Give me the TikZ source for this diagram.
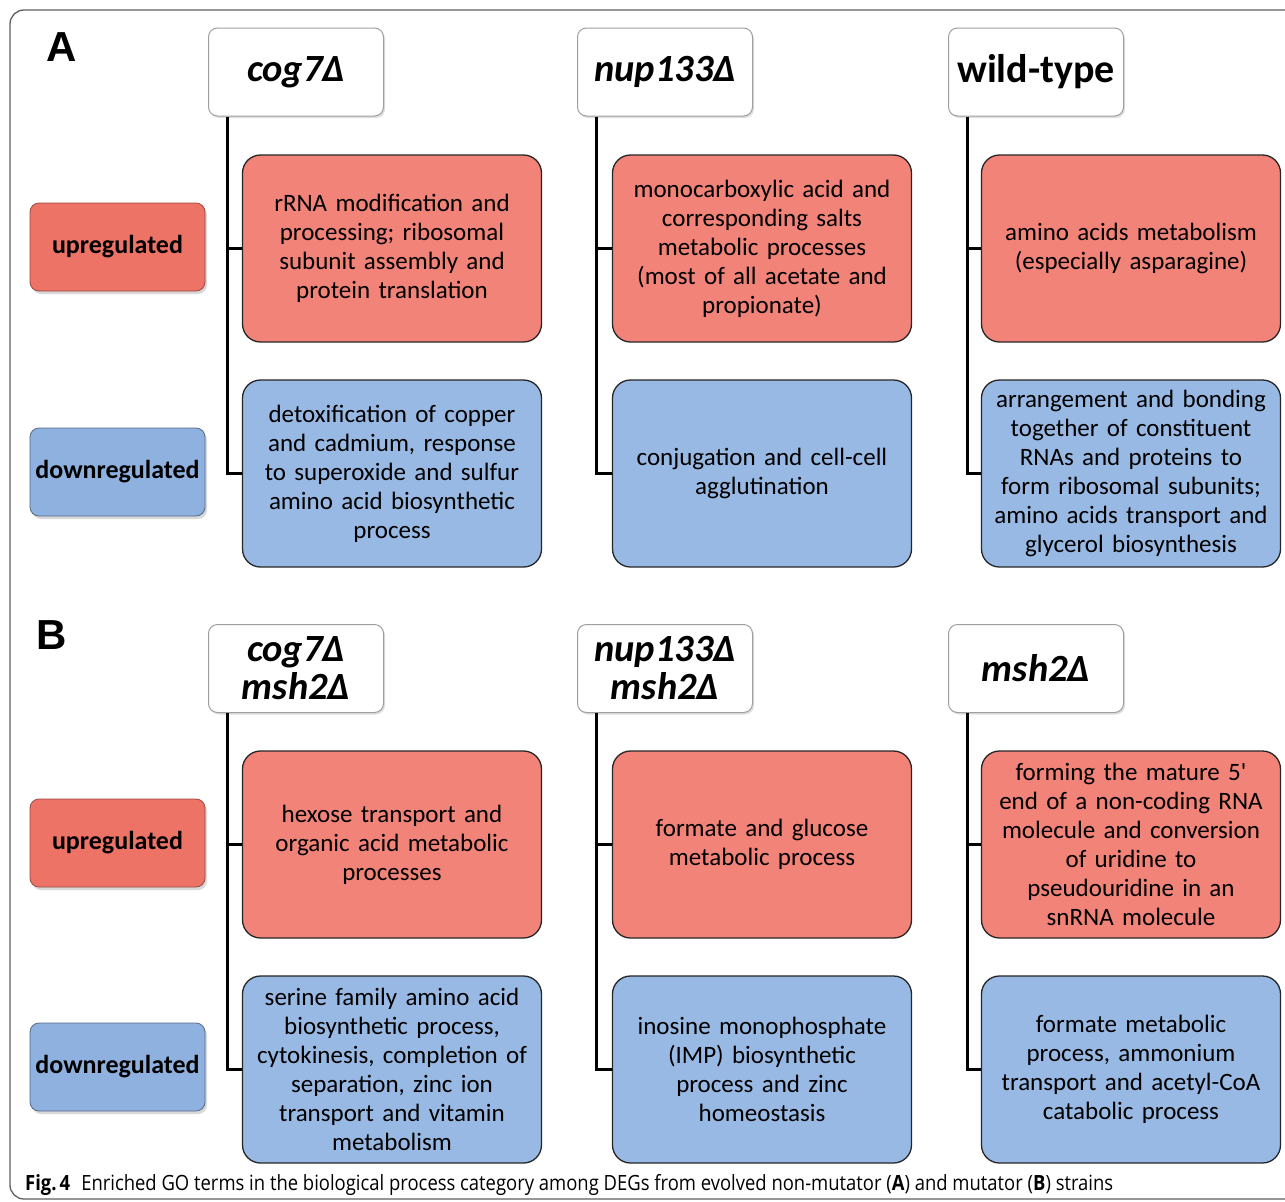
\documentclass[tikz,border=0pt]{standalone}
\usepackage{fontspec}
\usepackage{graphicx}
\setmainfont{Carlito}
\newfontfamily\capfont{Open Sans}
\newfontfamily\panelfont{Liberation Sans}
\usetikzlibrary{shadows,calc}
\definecolor{upfill}{RGB}{241,131,120}
\definecolor{uplab}{RGB}{236,115,102}
\definecolor{dnfill}{RGB}{152,185,228}
\definecolor{dnlab}{RGB}{142,177,224}
\definecolor{framec}{RGB}{95,95,95}
\tikzset{
  gobox/.style={draw=black!85, line width=1.3pt, rounded corners=18pt,
    minimum width=299pt, minimum height=187pt, align=center,
    text width=296pt, inner sep=0pt, font=\fontsize{25}{29}\selectfont},
  upbox/.style={gobox, fill=upfill},
  dnbox/.style={gobox, fill=dnfill},
  hdr/.style={draw=gray!75, fill=white, line width=1pt, rounded corners=9pt,
    minimum width=175pt, minimum height=88pt, align=center, inner sep=0pt,
    font=\fontsize{38.5}{38}\selectfont\bfseries\itshape,
    drop shadow={shadow xshift=1.5pt, shadow yshift=-2pt, opacity=0.25}},
  lab/.style={line width=0.8pt, rounded corners=9pt,
    minimum width=175pt, minimum height=88pt, inner sep=0pt,
    font=\fontsize{26}{28}\selectfont\bfseries,
    drop shadow={shadow xshift=2pt, shadow yshift=-3pt, opacity=0.3}},
  uplabel/.style={lab, fill=uplab, draw=uplab!65!black},
  dnlabel/.style={lab, fill=dnlab, draw=dnlab!60!black},
  conn/.style={line width=3pt, black},
  panel/.style={font=\panelfont\fontsize{42}{42}\selectfont\bfseries}
}
\begin{document}
\begin{tikzpicture}[x=1pt,y=-1pt]
\useasboundingbox (0,0) rectangle (1285,1202);
\clip (0,0) rectangle (1285,1202);
\fill[white] (0,0) rectangle (1285,1202);
\draw[framec, line width=1.3pt, rounded corners=14pt] (10,10) rectangle (1320,1199);

% ---------- Panel A ----------
\node[panel] (pA) at (62,47) {A};
\node[hdr] (hA1) at (296,72) {cog7Δ};
\node[hdr] (hA2) at (665,72) {nup133Δ};
\node[hdr, font=\fontsize{40}{38}\selectfont\bfseries] (hA3) at (1036,72) {wild-type};

\node[uplabel] (lAu) at (117.5,247) {upregulated};
\node[dnlabel] (lAd) at (117.5,472) {downregulated};

\node[upbox] (uA1) at (392,248.5) {rRNA modification and\\processing; ribosomal\\subunit assembly and\\protein translation};
\node[upbox] (uA2) at (762,248.5) {monocarboxylic acid and\\corresponding salts\\metabolic processes\\(most of all acetate and\\propionate)};
\node[upbox] (uA3) at (1131,248.5) {amino acids metabolism\\(especially asparagine)};

\node[dnbox] (dA1) at (392,473.5) {detoxification of copper\\and cadmium, response\\to superoxide and sulfur\\amino acid biosynthetic\\process};
\node[dnbox] (dA2) at (762,473.5) {conjugation and cell-cell\\agglutination};
\node[dnbox] (dA3) at (1131,473.5) {arrangement and bonding\\together of constituent\\RNAs and proteins to\\form ribosomal subunits;\\amino acids transport and\\glycerol biosynthesis};

\foreach \i in {1,2,3} {
  \coordinate (tA\i) at ([xshift=19.5pt]hA\i.south west);
  \draw[conn] (tA\i) |- (dA\i.west);
  \draw[conn] (tA\i |- uA\i.west) -- (uA\i.west);
}

% ---------- Panel B ----------
\node[panel] (pB) at (52,635) {B};
\node[hdr] (hB1) at (296,668.5) {cog7Δ\\msh2Δ};
\node[hdr] (hB2) at (665,668.5) {nup133Δ\\msh2Δ};
\node[hdr] (hB3) at (1036,668.5) {msh2Δ};

\node[uplabel] (lBu) at (117.5,843) {upregulated};
\node[dnlabel] (lBd) at (117.5,1067) {downregulated};

\node[upbox] (uB1) at (392,844.5) {hexose transport and\\organic acid metabolic\\processes};
\node[upbox] (uB2) at (762,844.5) {formate and glucose\\metabolic process};
\node[upbox] (uB3) at (1131,844.5) {forming the mature 5\textquotesingle\\end of a non-coding RNA\\molecule and conversion\\of uridine to\\pseudouridine in an\\snRNA molecule};

\node[dnbox] (dB1) at (392,1069.5) {serine family amino acid\\biosynthetic process,\\cytokinesis, completion of\\separation, zinc ion\\transport and vitamin\\metabolism};
\node[dnbox] (dB2) at (762,1069.5) {inosine monophosphate\\(IMP) biosynthetic\\process and zinc\\homeostasis};
\node[dnbox] (dB3) at (1131,1069.5) {formate metabolic\\process, ammonium\\transport and acetyl-CoA\\catabolic process};

\foreach \i in {1,2,3} {
  \coordinate (tB\i) at ([xshift=19.5pt]hB\i.south west);
  \draw[conn] (tB\i) |- (dB\i.west);
  \draw[conn] (tB\i |- uB\i.west) -- (uB\i.west);
}

% ---------- Caption ----------
\node[anchor=base west, inner sep=0pt, font=\capfont\fontsize{21}{24}\selectfont] (cap) at (25,1190)
  {\resizebox{1088pt}{\height}{\textbf{Fig.\,4}\hspace{0.6em}Enriched GO terms in the biological process category among DEGs from evolved non-mutator (\textbf{A}) and mutator (\textbf{B}) strains}};
\end{tikzpicture}
\end{document}
